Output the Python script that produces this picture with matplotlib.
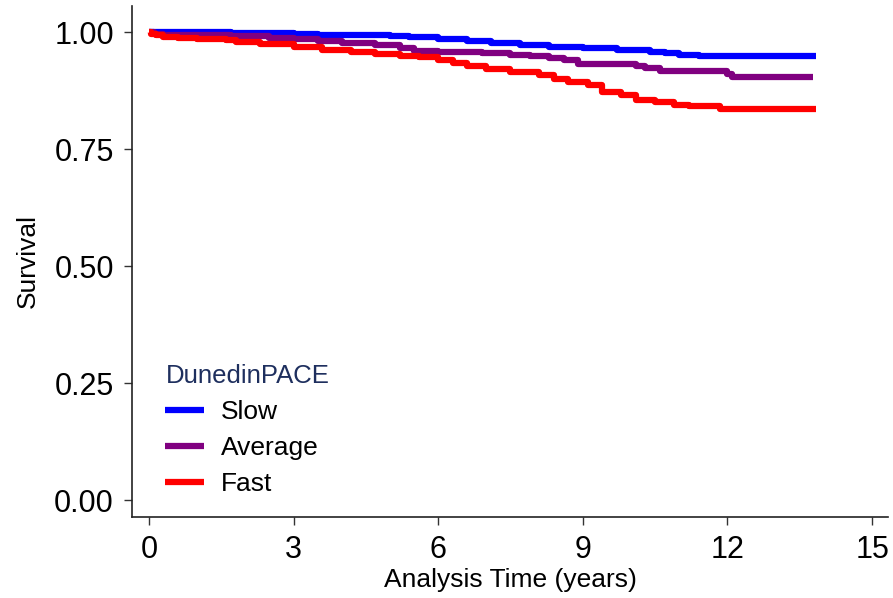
import matplotlib
matplotlib.use("Agg")
import matplotlib.pyplot as plt

plt.rcParams['font.family'] = ['Liberation Sans', 'DejaVu Sans']

# Slow
slow_t = [0, 1.7, 3.0, 3.5, 4.2, 5.0, 5.4, 6.0, 6.6, 7.1, 7.7, 8.3, 9.0, 9.7, 10.4, 10.7, 11.0, 11.4, 13.84]
slow_s = [1.000, 0.999, 0.997, 0.995, 0.993, 0.991, 0.989, 0.986, 0.982, 0.977, 0.973, 0.969, 0.966, 0.962, 0.958, 0.955, 0.952, 0.950, 0.950]

# Average
avg_t = [0, 0.1, 0.3, 1.0, 1.7, 2.5, 3.0, 3.5, 4.0, 4.7, 5.2, 5.5, 6.0, 6.9, 7.5, 7.9, 8.3, 8.6, 8.9, 9.6, 10.1, 10.3, 10.6, 12.0, 12.1, 13.78]
avg_s = [1.000, 0.997, 0.995, 0.993, 0.991, 0.988, 0.985, 0.981, 0.977, 0.972, 0.966, 0.960, 0.958, 0.955, 0.952, 0.949, 0.944, 0.940, 0.933, 0.932, 0.928, 0.923, 0.917, 0.910, 0.904, 0.904]

# Fast
fast_t = [0, 0.05, 0.15, 0.3, 0.6, 1.0, 1.6, 1.8, 2.3, 3.0, 3.6, 4.2, 4.7, 5.2, 5.6, 6.0, 6.3, 6.6, 7.0, 7.5, 8.1, 8.4, 8.7, 9.1, 9.4, 9.8, 10.1, 10.5, 10.9, 11.2, 11.85, 13.84]
fast_s = [1.000, 0.996, 0.993, 0.990, 0.988, 0.986, 0.983, 0.979, 0.975, 0.968, 0.962, 0.958, 0.954, 0.950, 0.946, 0.940, 0.934, 0.928, 0.921, 0.915, 0.908, 0.900, 0.894, 0.887, 0.872, 0.865, 0.855, 0.851, 0.845, 0.842, 0.835, 0.835]

series_names = ["Slow", "Average", "Fast"]
series_colors = ["#0000ff", "#800080", "#ff0000"]

x_ticks = [0, 3, 6, 9, 12, 15]
y_ticks = [0.00, 0.25, 0.50, 0.75, 1.00]
y_tick_labels = ["0.00", "0.25", "0.50", "0.75", "1.00"]

fig = plt.figure(figsize=(8.93, 5.98), dpi=100)
ax = fig.add_axes([132/893, 1 - 517/598, (888-132)/893, (517-6)/598])

data = [(slow_t, slow_s), (avg_t, avg_s), (fast_t, fast_s)]
handles = {}
for (t, s), name, col, z in zip(data, series_names, series_colors, [3, 4, 5]):
    ln, = ax.plot(t, s, drawstyle='steps-post', color=col, lw=4.5, zorder=z,
                  solid_capstyle='butt', label=name)
    handles[name] = ln

ax.set_xlim(-0.35, 15.33)
ax.set_ylim(-0.036, 1.056)
ax.set_xticks(x_ticks)
ax.set_xticklabels([str(v) for v in x_ticks])
ax.set_yticks(y_ticks)
ax.set_yticklabels(y_tick_labels)
ax.tick_params(axis='both', labelsize=22, length=6, width=1.0, color='#333333', pad=7)
ax.spines['top'].set_visible(False)
ax.spines['right'].set_visible(False)
for sp in ['left', 'bottom']:
    ax.spines[sp].set_linewidth(1.2)
    ax.spines[sp].set_color('#222222')

ax.set_xlabel("Analysis Time (years)", fontsize=19, labelpad=2)
ax.set_ylabel("Survival", fontsize=19, labelpad=10)

leg = ax.legend([handles[n] for n in series_names], series_names, title="DunedinPACE",
                loc='upper left', bbox_to_anchor=(147/893, 1 - 346/598),
                bbox_transform=fig.transFigure, frameon=False, fontsize=19,
                title_fontsize=18.5, handlelength=1.45, handletextpad=0.65,
                labelspacing=0.45, borderpad=0.2)
leg.get_title().set_color('#1e2f5e')
leg._legend_box.align = "left"

fig.savefig("out.png", dpi=100)
